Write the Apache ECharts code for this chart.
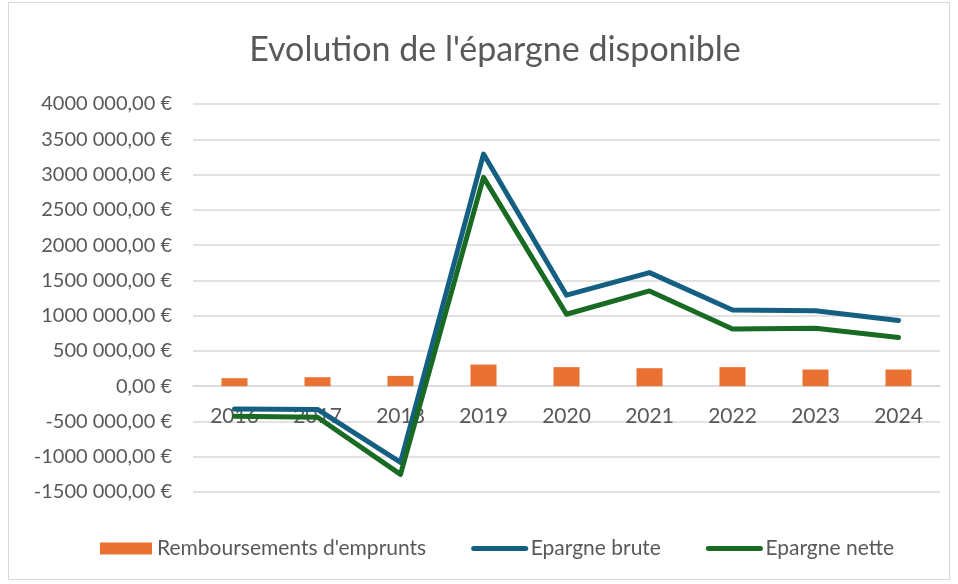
<!DOCTYPE html>
<html>
<head>
<meta charset="utf-8">
<script src="https://cdn.jsdelivr.net/npm/echarts@6/dist/echarts.min.js"></script>
<style>
  html, body { margin: 0; padding: 0; background: #fff; }
  #frame { position: absolute; left: 8px; top: 2px; width: 940px; height: 576px; border: 1px solid #d9d9d9; }
  #chart { position: absolute; left: 0; top: 0; width: 958px; height: 584px; }
</style>
</head>
<body>
<div id="frame"></div>
<div id="chart"></div>
<script>
// années
const years = ["2016", "2017", "2018", "2019", "2020", "2021", "2022", "2023", "2024"];

// valeurs (€)
const remboursements = [113000, 127000, 146000, 307000, 270000, 255000, 270000, 236000, 236000];
const epargneBrute = [-325000, -330000, -1080000, 3290000, 1290000, 1610000, 1080000, 1070000, 930000];
const epargneNette = [-425000, -440000, -1250000, 2960000, 1020000, 1350000, 810000, 820000, 690000];

const FONT = "Lato, 'Noto Sans', sans-serif";
const GREY = "#595959";

// format Excel : "4000 000,00 €"
function euro(v) {
  if (v === 0) return "0,00 €";
  const a = Math.abs(v);
  const th = Math.floor(a / 1000);
  const u = String(a % 1000).padStart(3, "0");
  return (v < 0 ? "-" : "") + th + " " + u + ",00 €";
}

const chart = echarts.init(document.getElementById("chart"));

const noSymbol = { color: "rgba(0,0,0,0)", borderWidth: 0 };

// axe des catégories posé sur le zéro (onZero ne prend pas ici)
const GRID_TOP = 104, GRID_BOTTOM = 92, Y_MIN = -1500000, Y_MAX = 4000000;
const plotH = 584 - GRID_TOP - GRID_BOTTOM;
const zeroOffset = -plotH * (0 - Y_MIN) / (Y_MAX - Y_MIN);

chart.setOption({
  animation: false,
  title: {
    text: "Evolution de l'épargne disponible",
    left: 490,
    textAlign: "center",
    top: 28,
    textStyle: { fontFamily: FONT, fontSize: 34, fontWeight: "normal", color: GREY }
  },
  legend: {
    left: 95,
    top: 533,
    itemWidth: 52,
    itemHeight: 12,
    itemGap: 45,
    textStyle: { fontFamily: FONT, fontSize: 21, color: GREY },
    data: [
      { name: "Remboursements d'emprunts", icon: "rect" },
      { name: "Epargne brute", itemStyle: noSymbol, lineStyle: { width: 5, cap: "round" } },
      { name: "Epargne nette", itemStyle: noSymbol, lineStyle: { width: 5, cap: "round" } }
    ]
  },
  grid: { left: 193, right: 18, top: GRID_TOP, bottom: GRID_BOTTOM },
  xAxis: {
    type: "category",
    data: years,
    position: "bottom",
    offset: zeroOffset,
    axisLine: { onZero: false, lineStyle: { color: "#d9d9d9", width: 1.5 } },
    axisTick: { show: false },
    axisLabel: { fontFamily: FONT, fontSize: 21, color: GREY, margin: 20 }
  },
  yAxis: {
    type: "value",
    min: Y_MIN,
    max: Y_MAX,
    interval: 500000,
    axisLine: { show: false },
    axisTick: { show: false },
    splitLine: { lineStyle: { color: "#d9d9d9", width: 1.5 } },
    axisLabel: { fontFamily: FONT, fontSize: 20, color: GREY, margin: 21, formatter: euro }
  },
  series: [
    {
      name: "Remboursements d'emprunts",
      type: "bar",
      data: remboursements,
      barWidth: 26,
      itemStyle: { color: "#e97132" }
    },
    {
      name: "Epargne brute",
      type: "line",
      data: epargneBrute,
      symbol: "none",
      lineStyle: { color: "#156082", width: 5, cap: "round", join: "round" },
      itemStyle: { color: "#156082" }
    },
    {
      name: "Epargne nette",
      type: "line",
      data: epargneNette,
      symbol: "none",
      lineStyle: { color: "#196b24", width: 5, cap: "round", join: "round" },
      itemStyle: { color: "#196b24" }
    }
  ]
});
</script>
</body>
</html>
